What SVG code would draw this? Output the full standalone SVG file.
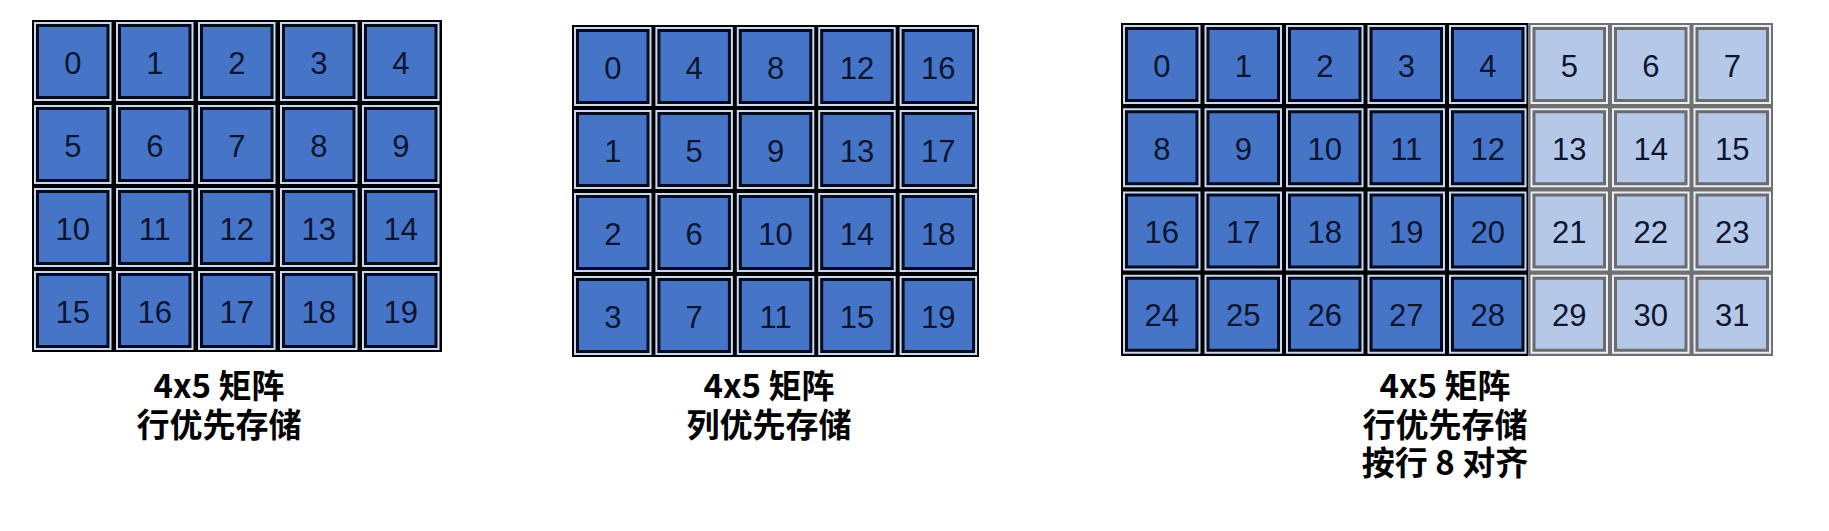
<svg xmlns="http://www.w3.org/2000/svg" width="1829" height="531" viewBox="0 0 1829 531">
<style>
.n{font-family:"Liberation Sans",Arial,sans-serif;font-size:31px;fill:#0b1530;text-anchor:middle}
.lb{font-family:"Noto Sans CJK SC","Noto Sans",sans-serif;font-weight:bold;font-size:33px;fill:#000;text-anchor:middle}
</style>
<defs>
<g id="cd"><rect x="2" y="2" width="77.5" height="79" fill="#c9d8f0"/><rect x="5.5" y="5.5" width="70.5" height="72" fill="#4674c6" stroke="#020a1c" stroke-width="3"/></g>
<g id="cl"><rect x="2" y="2" width="77.5" height="79" fill="#e8eef7"/><rect x="5.5" y="5.5" width="70.5" height="72" fill="#b5c8e8" stroke="#6c6c6c" stroke-width="3"/></g>
</defs>
<rect width="1829" height="531" fill="#fff"/>
<g id="connectors"/>
<g id="matrix1">
<rect x="32" y="20" width="410" height="332" fill="#000"/>
<g id="m1-0" transform="translate(32,20)"><use href="#cd"/><text class="n" x="40.75" y="53.5">0</text></g>
<g id="m1-1" transform="translate(114,20)"><use href="#cd"/><text class="n" x="40.75" y="53.5">1</text></g>
<g id="m1-2" transform="translate(196,20)"><use href="#cd"/><text class="n" x="40.75" y="53.5">2</text></g>
<g id="m1-3" transform="translate(278,20)"><use href="#cd"/><text class="n" x="40.75" y="53.5">3</text></g>
<g id="m1-4" transform="translate(360,20)"><use href="#cd"/><text class="n" x="40.75" y="53.5">4</text></g>
<g id="m1-5" transform="translate(32,103)"><use href="#cd"/><text class="n" x="40.75" y="53.5">5</text></g>
<g id="m1-6" transform="translate(114,103)"><use href="#cd"/><text class="n" x="40.75" y="53.5">6</text></g>
<g id="m1-7" transform="translate(196,103)"><use href="#cd"/><text class="n" x="40.75" y="53.5">7</text></g>
<g id="m1-8" transform="translate(278,103)"><use href="#cd"/><text class="n" x="40.75" y="53.5">8</text></g>
<g id="m1-9" transform="translate(360,103)"><use href="#cd"/><text class="n" x="40.75" y="53.5">9</text></g>
<g id="m1-10" transform="translate(32,186)"><use href="#cd"/><text class="n" x="40.75" y="53.5">10</text></g>
<g id="m1-11" transform="translate(114,186)"><use href="#cd"/><text class="n" x="40.75" y="53.5">11</text></g>
<g id="m1-12" transform="translate(196,186)"><use href="#cd"/><text class="n" x="40.75" y="53.5">12</text></g>
<g id="m1-13" transform="translate(278,186)"><use href="#cd"/><text class="n" x="40.75" y="53.5">13</text></g>
<g id="m1-14" transform="translate(360,186)"><use href="#cd"/><text class="n" x="40.75" y="53.5">14</text></g>
<g id="m1-15" transform="translate(32,269)"><use href="#cd"/><text class="n" x="40.75" y="53.5">15</text></g>
<g id="m1-16" transform="translate(114,269)"><use href="#cd"/><text class="n" x="40.75" y="53.5">16</text></g>
<g id="m1-17" transform="translate(196,269)"><use href="#cd"/><text class="n" x="40.75" y="53.5">17</text></g>
<g id="m1-18" transform="translate(278,269)"><use href="#cd"/><text class="n" x="40.75" y="53.5">18</text></g>
<g id="m1-19" transform="translate(360,269)"><use href="#cd"/><text class="n" x="40.75" y="53.5">19</text></g>
</g>
<g id="label1">
<text class="lb" x="219" y="398">4x5 矩阵</text>
<text class="lb" x="219" y="437">行优先存储</text>
</g>
<g id="matrix2">
<rect x="572" y="25" width="407" height="332" fill="#000"/>
<g id="m2-r0c0" transform="translate(572,25)"><use href="#cd"/><text class="n" x="40.75" y="53.5">0</text></g>
<g id="m2-r0c1" transform="translate(653.4,25)"><use href="#cd"/><text class="n" x="40.75" y="53.5">4</text></g>
<g id="m2-r0c2" transform="translate(734.8,25)"><use href="#cd"/><text class="n" x="40.75" y="53.5">8</text></g>
<g id="m2-r0c3" transform="translate(816.2,25)"><use href="#cd"/><text class="n" x="40.75" y="53.5">12</text></g>
<g id="m2-r0c4" transform="translate(897.6,25)"><use href="#cd"/><text class="n" x="40.75" y="53.5">16</text></g>
<g id="m2-r1c0" transform="translate(572,108)"><use href="#cd"/><text class="n" x="40.75" y="53.5">1</text></g>
<g id="m2-r1c1" transform="translate(653.4,108)"><use href="#cd"/><text class="n" x="40.75" y="53.5">5</text></g>
<g id="m2-r1c2" transform="translate(734.8,108)"><use href="#cd"/><text class="n" x="40.75" y="53.5">9</text></g>
<g id="m2-r1c3" transform="translate(816.2,108)"><use href="#cd"/><text class="n" x="40.75" y="53.5">13</text></g>
<g id="m2-r1c4" transform="translate(897.6,108)"><use href="#cd"/><text class="n" x="40.75" y="53.5">17</text></g>
<g id="m2-r2c0" transform="translate(572,191)"><use href="#cd"/><text class="n" x="40.75" y="53.5">2</text></g>
<g id="m2-r2c1" transform="translate(653.4,191)"><use href="#cd"/><text class="n" x="40.75" y="53.5">6</text></g>
<g id="m2-r2c2" transform="translate(734.8,191)"><use href="#cd"/><text class="n" x="40.75" y="53.5">10</text></g>
<g id="m2-r2c3" transform="translate(816.2,191)"><use href="#cd"/><text class="n" x="40.75" y="53.5">14</text></g>
<g id="m2-r2c4" transform="translate(897.6,191)"><use href="#cd"/><text class="n" x="40.75" y="53.5">18</text></g>
<g id="m2-r3c0" transform="translate(572,274)"><use href="#cd"/><text class="n" x="40.75" y="53.5">3</text></g>
<g id="m2-r3c1" transform="translate(653.4,274)"><use href="#cd"/><text class="n" x="40.75" y="53.5">7</text></g>
<g id="m2-r3c2" transform="translate(734.8,274)"><use href="#cd"/><text class="n" x="40.75" y="53.5">11</text></g>
<g id="m2-r3c3" transform="translate(816.2,274)"><use href="#cd"/><text class="n" x="40.75" y="53.5">15</text></g>
<g id="m2-r3c4" transform="translate(897.6,274)"><use href="#cd"/><text class="n" x="40.75" y="53.5">19</text></g>
</g>
<g id="label2">
<text class="lb" x="769" y="398">4x5 矩阵</text>
<text class="lb" x="769" y="437">列优先存储</text>
</g>
<g id="matrix3">
<rect x="1121" y="23" width="407.5" height="333" fill="#000"/>
<rect x="1528.5" y="23" width="244.5" height="333" fill="#707070"/>
<g id="m3-0" transform="translate(1121,23)"><use href="#cd"/><text class="n" x="40.75" y="53.5">0</text></g>
<g id="m3-1" transform="translate(1202.5,23)"><use href="#cd"/><text class="n" x="40.75" y="53.5">1</text></g>
<g id="m3-2" transform="translate(1284,23)"><use href="#cd"/><text class="n" x="40.75" y="53.5">2</text></g>
<g id="m3-3" transform="translate(1365.5,23)"><use href="#cd"/><text class="n" x="40.75" y="53.5">3</text></g>
<g id="m3-4" transform="translate(1447,23)"><use href="#cd"/><text class="n" x="40.75" y="53.5">4</text></g>
<g id="m3-5" transform="translate(1528.5,23)"><use href="#cl"/><text class="n" x="40.75" y="53.5">5</text></g>
<g id="m3-6" transform="translate(1610,23)"><use href="#cl"/><text class="n" x="40.75" y="53.5">6</text></g>
<g id="m3-7" transform="translate(1691.5,23)"><use href="#cl"/><text class="n" x="40.75" y="53.5">7</text></g>
<g id="m3-8" transform="translate(1121,106.25)"><use href="#cd"/><text class="n" x="40.75" y="53.5">8</text></g>
<g id="m3-9" transform="translate(1202.5,106.25)"><use href="#cd"/><text class="n" x="40.75" y="53.5">9</text></g>
<g id="m3-10" transform="translate(1284,106.25)"><use href="#cd"/><text class="n" x="40.75" y="53.5">10</text></g>
<g id="m3-11" transform="translate(1365.5,106.25)"><use href="#cd"/><text class="n" x="40.75" y="53.5">11</text></g>
<g id="m3-12" transform="translate(1447,106.25)"><use href="#cd"/><text class="n" x="40.75" y="53.5">12</text></g>
<g id="m3-13" transform="translate(1528.5,106.25)"><use href="#cl"/><text class="n" x="40.75" y="53.5">13</text></g>
<g id="m3-14" transform="translate(1610,106.25)"><use href="#cl"/><text class="n" x="40.75" y="53.5">14</text></g>
<g id="m3-15" transform="translate(1691.5,106.25)"><use href="#cl"/><text class="n" x="40.75" y="53.5">15</text></g>
<g id="m3-16" transform="translate(1121,189.5)"><use href="#cd"/><text class="n" x="40.75" y="53.5">16</text></g>
<g id="m3-17" transform="translate(1202.5,189.5)"><use href="#cd"/><text class="n" x="40.75" y="53.5">17</text></g>
<g id="m3-18" transform="translate(1284,189.5)"><use href="#cd"/><text class="n" x="40.75" y="53.5">18</text></g>
<g id="m3-19" transform="translate(1365.5,189.5)"><use href="#cd"/><text class="n" x="40.75" y="53.5">19</text></g>
<g id="m3-20" transform="translate(1447,189.5)"><use href="#cd"/><text class="n" x="40.75" y="53.5">20</text></g>
<g id="m3-21" transform="translate(1528.5,189.5)"><use href="#cl"/><text class="n" x="40.75" y="53.5">21</text></g>
<g id="m3-22" transform="translate(1610,189.5)"><use href="#cl"/><text class="n" x="40.75" y="53.5">22</text></g>
<g id="m3-23" transform="translate(1691.5,189.5)"><use href="#cl"/><text class="n" x="40.75" y="53.5">23</text></g>
<g id="m3-24" transform="translate(1121,272.75)"><use href="#cd"/><text class="n" x="40.75" y="53.5">24</text></g>
<g id="m3-25" transform="translate(1202.5,272.75)"><use href="#cd"/><text class="n" x="40.75" y="53.5">25</text></g>
<g id="m3-26" transform="translate(1284,272.75)"><use href="#cd"/><text class="n" x="40.75" y="53.5">26</text></g>
<g id="m3-27" transform="translate(1365.5,272.75)"><use href="#cd"/><text class="n" x="40.75" y="53.5">27</text></g>
<g id="m3-28" transform="translate(1447,272.75)"><use href="#cd"/><text class="n" x="40.75" y="53.5">28</text></g>
<g id="m3-29" transform="translate(1528.5,272.75)"><use href="#cl"/><text class="n" x="40.75" y="53.5">29</text></g>
<g id="m3-30" transform="translate(1610,272.75)"><use href="#cl"/><text class="n" x="40.75" y="53.5">30</text></g>
<g id="m3-31" transform="translate(1691.5,272.75)"><use href="#cl"/><text class="n" x="40.75" y="53.5">31</text></g>
</g>
<g id="label3">
<text class="lb" x="1445" y="398">4x5 矩阵</text>
<text class="lb" x="1445" y="437">行优先存储</text>
<text class="lb" x="1445" y="475">按行 8 对齐</text>
</g>
</svg>
